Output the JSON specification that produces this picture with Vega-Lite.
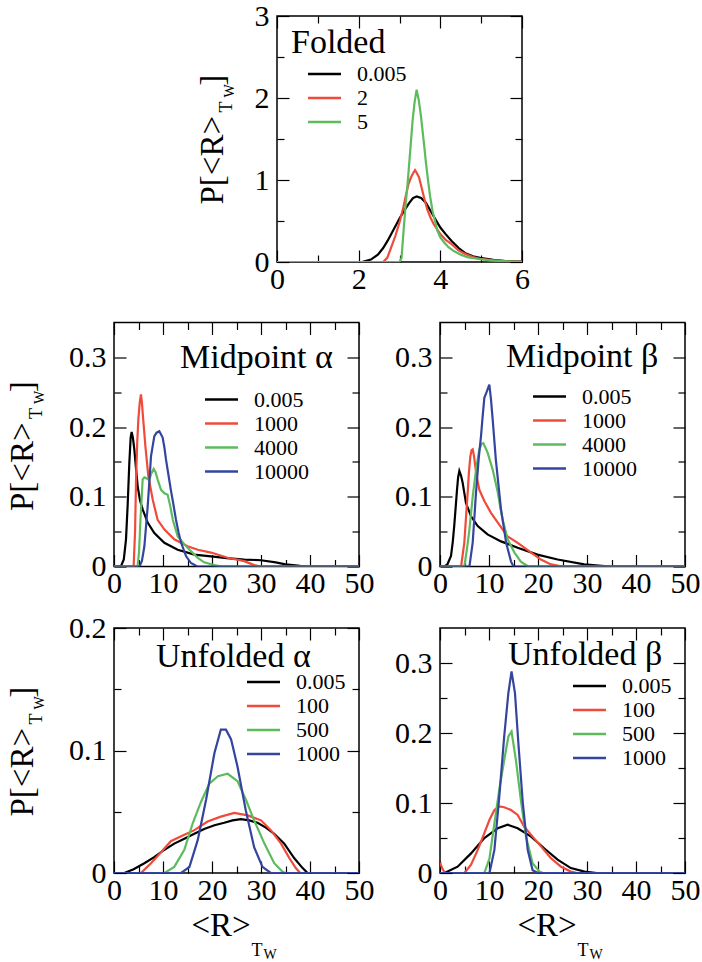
{
  "$schema": "https://vega.github.io/schema/vega-lite/v6.json",
  "background": "white",
  "padding": {"left": 5, "top": 0, "right": 5, "bottom": 0},
  "config": {
    "view": {"stroke": "black", "strokeWidth": 1.5},
    "font": "Liberation Serif",
    "axis": {"grid": false, "domain": false, "labelFont": "Liberation Serif", "labelFontSize": 30, "labelColor": "black", "titleFont": "Liberation Serif", "titleColor": "black", "titleFontWeight": "normal", "tickColor": "black", "tickWidth": 1.2, "labelFlush": false, "labelOverlap": false, "labelBound": false},
    "legend": {"padding": 0, "labelFont": "Liberation Serif", "labelFontSize": 22, "labelColor": "black", "symbolType": "M-1.333,0H2.667", "symbolSize": 272.25, "symbolStrokeWidth": 2.5, "labelOffset": 27, "rowPadding": 2, "direction": "vertical"},
    "title": {"font": "Liberation Serif", "fontSize": 34, "fontWeight": "normal", "color": "black", "anchor": "start", "frame": "group", "baseline": "alphabetic"}
  },
  "datasets": {
    "folded": [
      {"s":"0.005","x":0,"y":0},{"s":"0.005","x":1,"y":0},{"s":"0.005","x":2.0,"y":0},{"s":"0.005","x":2.1,"y":0.003},{"s":"0.005","x":2.3,"y":0.03},{"s":"0.005","x":2.47,"y":0.09},{"s":"0.005","x":2.6,"y":0.17},{"s":"0.005","x":2.71,"y":0.26},{"s":"0.005","x":2.85,"y":0.39},{"s":"0.005","x":3.01,"y":0.54},{"s":"0.005","x":3.12,"y":0.63},{"s":"0.005","x":3.24,"y":0.72},{"s":"0.005","x":3.33,"y":0.78},{"s":"0.005","x":3.42,"y":0.8},{"s":"0.005","x":3.53,"y":0.78},{"s":"0.005","x":3.65,"y":0.72},{"s":"0.005","x":3.81,"y":0.58},{"s":"0.005","x":4.0,"y":0.42},{"s":"0.005","x":4.13,"y":0.34},{"s":"0.005","x":4.27,"y":0.26},{"s":"0.005","x":4.45,"y":0.17},{"s":"0.005","x":4.6,"y":0.11},{"s":"0.005","x":4.8,"y":0.07},{"s":"0.005","x":4.97,"y":0.05},{"s":"0.005","x":5.3,"y":0.025},{"s":"0.005","x":5.6,"y":0.012},{"s":"0.005","x":6,"y":0.005},
      {"s":"2","x":0,"y":0},{"s":"2","x":2.6,"y":0},{"s":"2","x":2.7,"y":0.05},{"s":"2","x":2.79,"y":0.17},{"s":"2","x":2.9,"y":0.32},{"s":"2","x":3.01,"y":0.5},{"s":"2","x":3.1,"y":0.68},{"s":"2","x":3.16,"y":0.82},{"s":"2","x":3.22,"y":0.95},{"s":"2","x":3.28,"y":1.03},{"s":"2","x":3.33,"y":1.08},{"s":"2","x":3.38,"y":1.12},{"s":"2","x":3.43,"y":1.08},{"s":"2","x":3.48,"y":1.03},{"s":"2","x":3.56,"y":0.87},{"s":"2","x":3.62,"y":0.75},{"s":"2","x":3.68,"y":0.64},{"s":"2","x":3.76,"y":0.54},{"s":"2","x":3.84,"y":0.46},{"s":"2","x":4.0,"y":0.34},{"s":"2","x":4.13,"y":0.27},{"s":"2","x":4.27,"y":0.22},{"s":"2","x":4.45,"y":0.14},{"s":"2","x":4.6,"y":0.1},{"s":"2","x":4.8,"y":0.06},{"s":"2","x":4.97,"y":0.04},{"s":"2","x":5.3,"y":0.02},{"s":"2","x":5.6,"y":0.01},{"s":"2","x":6,"y":0.003},
      {"s":"5","x":0,"y":0},{"s":"5","x":3.0,"y":0},{"s":"5","x":3.05,"y":0.05},{"s":"5","x":3.11,"y":0.45},{"s":"5","x":3.16,"y":0.75},{"s":"5","x":3.21,"y":1.03},{"s":"5","x":3.27,"y":1.4},{"s":"5","x":3.32,"y":1.72},{"s":"5","x":3.37,"y":1.95},{"s":"5","x":3.42,"y":2.1},{"s":"5","x":3.47,"y":1.98},{"s":"5","x":3.52,"y":1.8},{"s":"5","x":3.56,"y":1.62},{"s":"5","x":3.6,"y":1.44},{"s":"5","x":3.65,"y":1.2},{"s":"5","x":3.7,"y":0.99},{"s":"5","x":3.75,"y":0.8},{"s":"5","x":3.81,"y":0.62},{"s":"5","x":3.87,"y":0.5},{"s":"5","x":3.93,"y":0.38},{"s":"5","x":4.0,"y":0.3},{"s":"5","x":4.09,"y":0.24},{"s":"5","x":4.2,"y":0.18},{"s":"5","x":4.34,"y":0.13},{"s":"5","x":4.5,"y":0.09},{"s":"5","x":4.66,"y":0.06},{"s":"5","x":4.9,"y":0.04},{"s":"5","x":5.2,"y":0.02},{"s":"5","x":5.6,"y":0.008},{"s":"5","x":6,"y":0.003}
    ],
    "mida": [
      {"s":"0.005","x":0,"y":0},{"s":"0.005","x":1.4,"y":0},{"s":"0.005","x":2.0,"y":0.01},{"s":"0.005","x":2.45,"y":0.039},{"s":"0.005","x":2.8,"y":0.09},{"s":"0.005","x":3.13,"y":0.149},{"s":"0.005","x":3.4,"y":0.185},{"s":"0.005","x":3.6,"y":0.193},{"s":"0.005","x":3.85,"y":0.185},{"s":"0.005","x":4.15,"y":0.168},{"s":"0.005","x":4.5,"y":0.14},{"s":"0.005","x":4.83,"y":0.115},{"s":"0.005","x":5.3,"y":0.095},{"s":"0.005","x":5.85,"y":0.082},{"s":"0.005","x":6.87,"y":0.063},{"s":"0.005","x":8.23,"y":0.048},{"s":"0.005","x":10.27,"y":0.034},{"s":"0.005","x":13,"y":0.024},{"s":"0.005","x":16.4,"y":0.017},{"s":"0.005","x":19.8,"y":0.0145},{"s":"0.005","x":23,"y":0.012},{"s":"0.005","x":26.6,"y":0.01},{"s":"0.005","x":30,"y":0.009},{"s":"0.005","x":33,"y":0.006},{"s":"0.005","x":35,"y":0.003},{"s":"0.005","x":38,"y":0.001},{"s":"0.005","x":40,"y":0},{"s":"0.005","x":50,"y":0},
      {"s":"1000","x":0,"y":0},{"s":"1000","x":4.0,"y":0},{"s":"1000","x":4.3,"y":0.05},{"s":"1000","x":4.5,"y":0.125},{"s":"1000","x":4.75,"y":0.18},{"s":"1000","x":4.97,"y":0.211},{"s":"1000","x":5.25,"y":0.235},{"s":"1000","x":5.5,"y":0.247},{"s":"1000","x":5.7,"y":0.235},{"s":"1000","x":5.9,"y":0.216},{"s":"1000","x":6.15,"y":0.195},{"s":"1000","x":6.4,"y":0.173},{"s":"1000","x":7.0,"y":0.13},{"s":"1000","x":7.9,"y":0.096},{"s":"1000","x":8.9,"y":0.067},{"s":"1000","x":10.3,"y":0.053},{"s":"1000","x":12.3,"y":0.039},{"s":"1000","x":15,"y":0.029},{"s":"1000","x":17.1,"y":0.024},{"s":"1000","x":19.8,"y":0.02},{"s":"1000","x":23.2,"y":0.0125},{"s":"1000","x":26.6,"y":0.0077},{"s":"1000","x":28.6,"y":0.002},{"s":"1000","x":30,"y":0},{"s":"1000","x":50,"y":0},
      {"s":"4000","x":0,"y":0},{"s":"4000","x":4.8,"y":0},{"s":"4000","x":5.1,"y":0.02},{"s":"4000","x":5.4,"y":0.067},{"s":"4000","x":5.85,"y":0.125},{"s":"4000","x":6.2,"y":0.128},{"s":"4000","x":6.53,"y":0.127},{"s":"4000","x":7.2,"y":0.124},{"s":"4000","x":7.6,"y":0.133},{"s":"4000","x":8.1,"y":0.14},{"s":"4000","x":8.5,"y":0.135},{"s":"4000","x":8.9,"y":0.125},{"s":"4000","x":9.6,"y":0.11},{"s":"4000","x":10.3,"y":0.105},{"s":"4000","x":10.95,"y":0.103},{"s":"4000","x":11.5,"y":0.086},{"s":"4000","x":12,"y":0.067},{"s":"4000","x":12.5,"y":0.055},{"s":"4000","x":13,"y":0.043},{"s":"4000","x":14.35,"y":0.032},{"s":"4000","x":15.7,"y":0.022},{"s":"4000","x":17.1,"y":0.0125},{"s":"4000","x":18.4,"y":0.006},{"s":"4000","x":20.5,"y":0.002},{"s":"4000","x":22,"y":0},{"s":"4000","x":50,"y":0},
      {"s":"10000","x":0,"y":0},{"s":"10000","x":5.2,"y":0},{"s":"10000","x":5.7,"y":0.008},{"s":"10000","x":6.2,"y":0.029},{"s":"10000","x":6.87,"y":0.086},{"s":"10000","x":7.2,"y":0.12},{"s":"10000","x":7.55,"y":0.158},{"s":"10000","x":8.23,"y":0.187},{"s":"10000","x":8.7,"y":0.192},{"s":"10000","x":9.25,"y":0.194},{"s":"10000","x":9.93,"y":0.185},{"s":"10000","x":10.3,"y":0.17},{"s":"10000","x":10.6,"y":0.154},{"s":"10000","x":11.1,"y":0.132},{"s":"10000","x":11.6,"y":0.11},{"s":"10000","x":12.1,"y":0.09},{"s":"10000","x":12.65,"y":0.067},{"s":"10000","x":13.2,"y":0.048},{"s":"10000","x":13.7,"y":0.034},{"s":"10000","x":14.7,"y":0.015},{"s":"10000","x":15.7,"y":0.005},{"s":"10000","x":17,"y":0},{"s":"10000","x":50,"y":0}
    ],
    "midb": [
      {"s":"0.005","x":0,"y":0},{"s":"0.005","x":0.9,"y":0},{"s":"0.005","x":1.5,"y":0.003},{"s":"0.005","x":2.24,"y":0.015},{"s":"0.005","x":2.6,"y":0.035},{"s":"0.005","x":2.9,"y":0.058},{"s":"0.005","x":3.2,"y":0.085},{"s":"0.005","x":3.47,"y":0.11},{"s":"0.005","x":3.7,"y":0.128},{"s":"0.005","x":3.95,"y":0.137},{"s":"0.005","x":4.3,"y":0.13},{"s":"0.005","x":4.63,"y":0.12},{"s":"0.005","x":5.3,"y":0.091},{"s":"0.005","x":6.33,"y":0.072},{"s":"0.005","x":7.7,"y":0.058},{"s":"0.005","x":9.7,"y":0.046},{"s":"0.005","x":12.45,"y":0.036},{"s":"0.005","x":15.85,"y":0.027},{"s":"0.005","x":19.9,"y":0.017},{"s":"0.005","x":24,"y":0.01},{"s":"0.005","x":29.45,"y":0.003},{"s":"0.005","x":33,"y":0.001},{"s":"0.005","x":35,"y":0},{"s":"0.005","x":50,"y":0},
      {"s":"1000","x":0,"y":0},{"s":"1000","x":4.3,"y":0},{"s":"1000","x":4.96,"y":0.034},{"s":"1000","x":5.3,"y":0.07},{"s":"1000","x":5.65,"y":0.106},{"s":"1000","x":5.9,"y":0.135},{"s":"1000","x":6.19,"y":0.158},{"s":"1000","x":6.45,"y":0.167},{"s":"1000","x":6.67,"y":0.168},{"s":"1000","x":6.9,"y":0.16},{"s":"1000","x":7.2,"y":0.144},{"s":"1000","x":7.6,"y":0.125},{"s":"1000","x":8.03,"y":0.11},{"s":"1000","x":9.05,"y":0.094},{"s":"1000","x":10.4,"y":0.077},{"s":"1000","x":11.8,"y":0.063},{"s":"1000","x":13.8,"y":0.043},{"s":"1000","x":15.85,"y":0.034},{"s":"1000","x":17.2,"y":0.027},{"s":"1000","x":18.6,"y":0.02},{"s":"1000","x":20.6,"y":0.01},{"s":"1000","x":22.65,"y":0.003},{"s":"1000","x":25,"y":0},{"s":"1000","x":50,"y":0},
      {"s":"4000","x":0,"y":0},{"s":"4000","x":4.96,"y":0},{"s":"4000","x":5.5,"y":0.025},{"s":"4000","x":6,"y":0.053},{"s":"4000","x":6.67,"y":0.1},{"s":"4000","x":7.35,"y":0.139},{"s":"4000","x":8.03,"y":0.168},{"s":"4000","x":8.5,"y":0.176},{"s":"4000","x":8.84,"y":0.177},{"s":"4000","x":9.3,"y":0.17},{"s":"4000","x":9.73,"y":0.163},{"s":"4000","x":10.75,"y":0.139},{"s":"4000","x":11.3,"y":0.122},{"s":"4000","x":11.8,"y":0.106},{"s":"4000","x":12.3,"y":0.085},{"s":"4000","x":12.8,"y":0.067},{"s":"4000","x":13.8,"y":0.039},{"s":"4000","x":15.2,"y":0.02},{"s":"4000","x":16.5,"y":0.007},{"s":"4000","x":18,"y":0},{"s":"4000","x":50,"y":0},
      {"s":"10000","x":0,"y":0},{"s":"10000","x":6,"y":0},{"s":"10000","x":6.67,"y":0.034},{"s":"10000","x":7.35,"y":0.106},{"s":"10000","x":7.9,"y":0.155},{"s":"10000","x":8.37,"y":0.187},{"s":"10000","x":8.7,"y":0.215},{"s":"10000","x":9.05,"y":0.242},{"s":"10000","x":9.5,"y":0.25},{"s":"10000","x":10.07,"y":0.261},{"s":"10000","x":10.4,"y":0.24},{"s":"10000","x":10.75,"y":0.211},{"s":"10000","x":11.4,"y":0.153},{"s":"10000","x":12.45,"y":0.082},{"s":"10000","x":13.5,"y":0.034},{"s":"10000","x":14.5,"y":0.007},{"s":"10000","x":15,"y":0},{"s":"10000","x":50,"y":0}
    ],
    "unfa": [
      {"s":"0.005","x":0,"y":0},{"s":"0.005","x":2.1,"y":0},{"s":"0.005","x":4,"y":0.003},{"s":"0.005","x":6.2,"y":0.008},{"s":"0.005","x":8.2,"y":0.013},{"s":"0.005","x":10.3,"y":0.019},{"s":"0.005","x":12.3,"y":0.024},{"s":"0.005","x":14.35,"y":0.028},{"s":"0.005","x":16.4,"y":0.032},{"s":"0.005","x":18.4,"y":0.036},{"s":"0.005","x":20.5,"y":0.039},{"s":"0.005","x":22.5,"y":0.041},{"s":"0.005","x":24.2,"y":0.043},{"s":"0.005","x":25.9,"y":0.044},{"s":"0.005","x":27.6,"y":0.043},{"s":"0.005","x":29.3,"y":0.041},{"s":"0.005","x":31,"y":0.037},{"s":"0.005","x":32.7,"y":0.032},{"s":"0.005","x":34.75,"y":0.024},{"s":"0.005","x":36.8,"y":0.012},{"s":"0.005","x":38.5,"y":0.004},{"s":"0.005","x":39.5,"y":0},{"s":"0.005","x":50,"y":0},
      {"s":"100","x":0,"y":0},{"s":"100","x":5.5,"y":0},{"s":"100","x":7.55,"y":0.008},{"s":"100","x":9.6,"y":0.017},{"s":"100","x":11.6,"y":0.026},{"s":"100","x":13.7,"y":0.03},{"s":"100","x":16.4,"y":0.035},{"s":"100","x":19.1,"y":0.042},{"s":"100","x":21.8,"y":0.046},{"s":"100","x":24.55,"y":0.049},{"s":"100","x":27.3,"y":0.047},{"s":"100","x":30,"y":0.043},{"s":"100","x":32,"y":0.035},{"s":"100","x":34.1,"y":0.024},{"s":"100","x":35.8,"y":0.012},{"s":"100","x":37.1,"y":0.004},{"s":"100","x":38,"y":0},{"s":"100","x":50,"y":0},
      {"s":"500","x":0,"y":0},{"s":"500","x":10.3,"y":0},{"s":"500","x":12.3,"y":0.005},{"s":"500","x":14.35,"y":0.019},{"s":"500","x":16.1,"y":0.041},{"s":"500","x":17.75,"y":0.058},{"s":"500","x":19.45,"y":0.073},{"s":"500","x":21.2,"y":0.079},{"s":"500","x":23.2,"y":0.081},{"s":"500","x":25.2,"y":0.075},{"s":"500","x":26.9,"y":0.06},{"s":"500","x":28.6,"y":0.043},{"s":"500","x":30.7,"y":0.024},{"s":"500","x":32.7,"y":0.008},{"s":"500","x":34.4,"y":0.001},{"s":"500","x":35,"y":0},{"s":"500","x":50,"y":0},
      {"s":"1000","x":0,"y":0},{"s":"1000","x":13.7,"y":0},{"s":"1000","x":15.4,"y":0.005},{"s":"1000","x":17.1,"y":0.027},{"s":"1000","x":18.8,"y":0.06},{"s":"1000","x":20.5,"y":0.098},{"s":"1000","x":21.8,"y":0.117},{"s":"1000","x":22.85,"y":0.117},{"s":"1000","x":23.9,"y":0.109},{"s":"1000","x":25.2,"y":0.087},{"s":"1000","x":26.9,"y":0.051},{"s":"1000","x":28.6,"y":0.021},{"s":"1000","x":30.3,"y":0.005},{"s":"1000","x":32,"y":0},{"s":"1000","x":50,"y":0}
    ],
    "unfb": [
      {"s":"0.005","x":0,"y":0},{"s":"0.005","x":0.9,"y":0},{"s":"0.005","x":3.6,"y":0.009},{"s":"0.005","x":6.33,"y":0.028},{"s":"0.005","x":9.05,"y":0.05},{"s":"0.005","x":11.8,"y":0.064},{"s":"0.005","x":13.8,"y":0.069},{"s":"0.005","x":15.85,"y":0.064},{"s":"0.005","x":18.6,"y":0.052},{"s":"0.005","x":21.3,"y":0.035},{"s":"0.005","x":24,"y":0.019},{"s":"0.005","x":26.7,"y":0.007},{"s":"0.005","x":29.5,"y":0.002},{"s":"0.005","x":32,"y":0},{"s":"0.005","x":50,"y":0},
      {"s":"100","x":0,"y":0.015},{"s":"100","x":0.5,"y":0.006},{"s":"100","x":1,"y":0},{"s":"100","x":5,"y":0},{"s":"100","x":6.33,"y":0.012},{"s":"100","x":7.7,"y":0.033},{"s":"100","x":9.05,"y":0.057},{"s":"100","x":10.1,"y":0.076},{"s":"100","x":11.1,"y":0.09},{"s":"100","x":12.1,"y":0.095},{"s":"100","x":13.1,"y":0.094},{"s":"100","x":14.5,"y":0.09},{"s":"100","x":15.85,"y":0.083},{"s":"100","x":17.2,"y":0.066},{"s":"100","x":18.9,"y":0.052},{"s":"100","x":20.6,"y":0.038},{"s":"100","x":22.65,"y":0.021},{"s":"100","x":24.7,"y":0.009},{"s":"100","x":26.7,"y":0.002},{"s":"100","x":28,"y":0},{"s":"100","x":50,"y":0},
      {"s":"500","x":0,"y":0},{"s":"500","x":9.05,"y":0},{"s":"500","x":10.1,"y":0.021},{"s":"500","x":11.1,"y":0.071},{"s":"500","x":12.1,"y":0.119},{"s":"500","x":13.1,"y":0.161},{"s":"500","x":13.95,"y":0.195},{"s":"500","x":14.6,"y":0.202},{"s":"500","x":15.5,"y":0.161},{"s":"500","x":16.5,"y":0.104},{"s":"500","x":17.55,"y":0.052},{"s":"500","x":18.9,"y":0.014},{"s":"500","x":20.3,"y":0.002},{"s":"500","x":21,"y":0},{"s":"500","x":50,"y":0},
      {"s":"1000","x":0,"y":0},{"s":"1000","x":10.1,"y":0},{"s":"1000","x":11.1,"y":0.033},{"s":"1000","x":12.1,"y":0.109},{"s":"1000","x":13.1,"y":0.195},{"s":"1000","x":13.95,"y":0.257},{"s":"1000","x":14.6,"y":0.288},{"s":"1000","x":15.3,"y":0.257},{"s":"1000","x":16,"y":0.185},{"s":"1000","x":16.9,"y":0.1},{"s":"1000","x":17.9,"y":0.033},{"s":"1000","x":18.9,"y":0.004},{"s":"1000","x":20,"y":0},{"s":"1000","x":50,"y":0}
    ]
  },
  "spacing": 12.5,
  "resolve": {"scale": {"color": "independent", "x": "independent", "y": "independent"}, "legend": {"color": "independent"}},
  "vconcat": [
    {
      "hconcat": [
        {"width": 163, "height": 291.5, "view": {"stroke": null}, "data": {"values": [{}]}, "mark": {"type": "point", "opacity": 0}},
        {
          "width": 245, "height": 246,
          "data": {"name": "folded"},
          "title": {"text": "Folded", "dx": 14, "offset": -59},
          "resolve": {"axis": {"x": "independent", "y": "independent"}},
          "layer": [
            {"mark": {"type": "line", "strokeWidth": 2.2, "clip": true},
             "encoding": {
               "x": {"field": "x", "type": "quantitative", "scale": {"domain": [0, 6], "nice": false}, "axis": {"orient": "bottom", "values": [0, 2, 4, 6], "ticks": false, "labelPadding": 2, "title": null}},
               "y": {"field": "y", "type": "quantitative", "scale": {"domain": [0, 3], "nice": false}, "axis": {"orient": "left", "values": [0, 1, 2, 3], "ticks": false, "labelPadding": 8, "title": "P[<R>\u2002\u2005\u2006]", "titleFontSize": 33, "titleAngle": -90, "titleAlign": "left", "titleBaseline": "alphabetic", "titleX": -55, "titleY": 188}},
               "color": {"field": "s", "type": "nominal", "scale": {"domain": ["0.005", "2", "5"], "range": ["#000000", "#ef4a3a", "#5dbb5d"]}, "legend": {"title": null, "orient": "none", "legendX": 31, "legendY": 47}}
             }},
            {"mark": {"type": "point", "opacity": 0},
             "encoding": {
               "x": {"field": "x", "type": "quantitative", "scale": {"domain": [0, 6], "nice": false}, "axis": {"orient": "bottom", "values": [0, 2, 4, 6], "tickSize": -12, "labels": false, "title": null}},
               "y": {"field": "y", "type": "quantitative", "scale": {"domain": [0, 3], "nice": false}, "axis": {"orient": "left", "values": [0, 1, 2, 3], "tickSize": -12, "labels": false, "title": "T", "titleFontSize": 18, "titleAngle": -90, "titleAlign": "left", "titleBaseline": "alphabetic", "titleX": -46, "titleY": 96}}
             }},
            {"mark": {"type": "point", "opacity": 0},
             "encoding": {
               "x": {"field": "x", "type": "quantitative", "scale": {"domain": [0, 6], "nice": false}, "axis": {"orient": "bottom", "values": [1, 3, 5], "tickSize": -7, "labels": false, "title": null}},
               "y": {"field": "y", "type": "quantitative", "scale": {"domain": [0, 3], "nice": false}, "axis": {"orient": "left", "values": [0.5, 1.5, 2.5], "tickSize": -7, "labels": false, "title": "W", "titleFontSize": 14, "titleAngle": -90, "titleAlign": "left", "titleBaseline": "alphabetic", "titleX": -44, "titleY": 81}}
             }},
            {"mark": {"type": "point", "opacity": 0},
             "encoding": {
               "x": {"field": "x", "type": "quantitative", "scale": {"domain": [0, 6], "nice": false}, "axis": {"orient": "top", "values": [0, 2, 4, 6], "tickSize": -12, "labels": false, "title": null}},
               "y": {"field": "y", "type": "quantitative", "scale": {"domain": [0, 3], "nice": false}, "axis": {"orient": "right", "values": [0, 1, 2, 3], "tickSize": -12, "labels": false, "title": null}}
             }},
            {"mark": {"type": "point", "opacity": 0},
             "encoding": {
               "x": {"field": "x", "type": "quantitative", "scale": {"domain": [0, 6], "nice": false}, "axis": {"orient": "top", "values": [1, 3, 5], "tickSize": -7, "labels": false, "title": null}},
               "y": {"field": "y", "type": "quantitative", "scale": {"domain": [0, 3], "nice": false}, "axis": {"orient": "right", "values": [0.5, 1.5, 2.5], "tickSize": -7, "labels": false, "title": null}}
             }}
          ]
        }
      ],
      "spacing": 0,
      "bounds": "flush",
      "resolve": {"scale": {"color": "independent", "x": "independent", "y": "independent"}, "legend": {"color": "independent"}}
    },
    {
      "hconcat": [
        {
          "width": 245, "height": 244,
          "data": {"name": "mida"},
          "title": {"text": "Midpoint α", "dx": 66, "offset": -53.5},
          "resolve": {"axis": {"x": "independent", "y": "independent"}},
          "layer": [
            {"mark": {"type": "line", "strokeWidth": 2.2, "clip": true},
             "encoding": {
               "x": {"field": "x", "type": "quantitative", "scale": {"domain": [0, 50], "nice": false}, "axis": {"orient": "bottom", "values": [0, 10, 20, 30, 40, 50], "ticks": false, "labelPadding": 2, "title": null}},
               "y": {"field": "y", "type": "quantitative", "scale": {"domain": [0, 0.35], "nice": false}, "axis": {"orient": "left", "values": [0, 0.1, 0.2, 0.3], "format": "~g", "ticks": false, "labelPadding": 8, "title": "P[<R>\u2002\u2005\u2006]", "titleFontSize": 33, "titleAngle": -90, "titleAlign": "left", "titleBaseline": "alphabetic", "titleX": -82, "titleY": 188}},
               "color": {"field": "s", "type": "nominal", "scale": {"domain": ["0.005", "1000", "4000", "10000"], "range": ["#000000", "#ef4a3a", "#5dbb5d", "#33459e"]}, "legend": {"title": null, "orient": "none", "legendX": 91, "legendY": 66}}
             }},
            {"mark": {"type": "point", "opacity": 0},
             "encoding": {
               "x": {"field": "x", "type": "quantitative", "scale": {"domain": [0, 50], "nice": false}, "axis": {"orient": "bottom", "values": [0, 10, 20, 30, 40, 50], "tickSize": -12, "labels": false, "title": null}},
               "y": {"field": "y", "type": "quantitative", "scale": {"domain": [0, 0.35], "nice": false}, "axis": {"orient": "left", "values": [0, 0.1, 0.2, 0.3], "tickSize": -12, "labels": false, "title": "T", "titleFontSize": 18, "titleAngle": -90, "titleAlign": "left", "titleBaseline": "alphabetic", "titleX": -73, "titleY": 96}}
             }},
            {"mark": {"type": "point", "opacity": 0},
             "encoding": {
               "x": {"field": "x", "type": "quantitative", "scale": {"domain": [0, 50], "nice": false}, "axis": {"orient": "bottom", "values": [5, 15, 25, 35, 45], "tickSize": -7, "labels": false, "title": null}},
               "y": {"field": "y", "type": "quantitative", "scale": {"domain": [0, 0.35], "nice": false}, "axis": {"orient": "left", "values": [0.05, 0.15, 0.25], "tickSize": -7, "labels": false, "title": "W", "titleFontSize": 14, "titleAngle": -90, "titleAlign": "left", "titleBaseline": "alphabetic", "titleX": -71, "titleY": 81}}
             }},
            {"mark": {"type": "point", "opacity": 0},
             "encoding": {
               "x": {"field": "x", "type": "quantitative", "scale": {"domain": [0, 50], "nice": false}, "axis": {"orient": "top", "values": [0, 10, 20, 30, 40, 50], "tickSize": -12, "labels": false, "title": null}},
               "y": {"field": "y", "type": "quantitative", "scale": {"domain": [0, 0.35], "nice": false}, "axis": {"orient": "right", "values": [0, 0.1, 0.2, 0.3], "tickSize": -12, "labels": false, "title": null}}
             }},
            {"mark": {"type": "point", "opacity": 0},
             "encoding": {
               "x": {"field": "x", "type": "quantitative", "scale": {"domain": [0, 50], "nice": false}, "axis": {"orient": "top", "values": [5, 15, 25, 35, 45], "tickSize": -7, "labels": false, "title": null}},
               "y": {"field": "y", "type": "quantitative", "scale": {"domain": [0, 0.35], "nice": false}, "axis": {"orient": "right", "values": [0.05, 0.15, 0.25], "tickSize": -7, "labels": false, "title": null}}
             }}
          ]
        },
        {
          "width": 245, "height": 244,
          "data": {"name": "midb"},
          "title": {"text": "Midpoint β", "dx": 66, "offset": -52.5},
          "resolve": {"axis": {"x": "independent", "y": "independent"}},
          "layer": [
            {"mark": {"type": "line", "strokeWidth": 2.2, "clip": true},
             "encoding": {
               "x": {"field": "x", "type": "quantitative", "scale": {"domain": [0, 50], "nice": false}, "axis": {"orient": "bottom", "values": [0, 10, 20, 30, 40, 50], "ticks": false, "labelPadding": 2, "title": null}},
               "y": {"field": "y", "type": "quantitative", "scale": {"domain": [0, 0.35], "nice": false}, "axis": {"orient": "left", "values": [0, 0.1, 0.2, 0.3], "format": "~g", "ticks": false, "labelPadding": 8, "title": null}},
               "color": {"field": "s", "type": "nominal", "scale": {"domain": ["0.005", "1000", "4000", "10000"], "range": ["#000000", "#ef4a3a", "#5dbb5d", "#33459e"]}, "legend": {"title": null, "orient": "none", "legendX": 93, "legendY": 63}}
             }},
            {"mark": {"type": "point", "opacity": 0},
             "encoding": {
               "x": {"field": "x", "type": "quantitative", "scale": {"domain": [0, 50], "nice": false}, "axis": {"orient": "bottom", "values": [0, 10, 20, 30, 40, 50], "tickSize": -12, "labels": false, "title": null}},
               "y": {"field": "y", "type": "quantitative", "scale": {"domain": [0, 0.35], "nice": false}, "axis": {"orient": "left", "values": [0, 0.1, 0.2, 0.3], "tickSize": -12, "labels": false, "title": null}}
             }},
            {"mark": {"type": "point", "opacity": 0},
             "encoding": {
               "x": {"field": "x", "type": "quantitative", "scale": {"domain": [0, 50], "nice": false}, "axis": {"orient": "bottom", "values": [5, 15, 25, 35, 45], "tickSize": -7, "labels": false, "title": null}},
               "y": {"field": "y", "type": "quantitative", "scale": {"domain": [0, 0.35], "nice": false}, "axis": {"orient": "left", "values": [0.05, 0.15, 0.25], "tickSize": -7, "labels": false, "title": null}}
             }},
            {"mark": {"type": "point", "opacity": 0},
             "encoding": {
               "x": {"field": "x", "type": "quantitative", "scale": {"domain": [0, 50], "nice": false}, "axis": {"orient": "top", "values": [0, 10, 20, 30, 40, 50], "tickSize": -12, "labels": false, "title": null}},
               "y": {"field": "y", "type": "quantitative", "scale": {"domain": [0, 0.35], "nice": false}, "axis": {"orient": "right", "values": [0, 0.1, 0.2, 0.3], "tickSize": -12, "labels": false, "title": null}}
             }},
            {"mark": {"type": "point", "opacity": 0},
             "encoding": {
               "x": {"field": "x", "type": "quantitative", "scale": {"domain": [0, 50], "nice": false}, "axis": {"orient": "top", "values": [5, 15, 25, 35, 45], "tickSize": -7, "labels": false, "title": null}},
               "y": {"field": "y", "type": "quantitative", "scale": {"domain": [0, 0.35], "nice": false}, "axis": {"orient": "right", "values": [0.05, 0.15, 0.25], "tickSize": -7, "labels": false, "title": null}}
             }}
          ]
        }
      ],
      "spacing": 81,
      "bounds": "flush",
      "resolve": {"scale": {"color": "independent", "x": "independent", "y": "independent"}, "legend": {"color": "independent"}}
    },
    {
      "hconcat": [
        {
          "width": 245, "height": 245,
          "data": {"name": "unfa"},
          "title": {"text": "Unfolded α", "dx": 42, "offset": -61},
          "resolve": {"axis": {"x": "independent", "y": "independent"}},
          "layer": [
            {"mark": {"type": "line", "strokeWidth": 2.2, "clip": true},
             "encoding": {
               "x": {"field": "x", "type": "quantitative", "scale": {"domain": [0, 50], "nice": false}, "axis": {"orient": "bottom", "values": [0, 10, 20, 30, 40, 50], "ticks": false, "labelPadding": 2, "title": "<R>", "titleFontSize": 33, "titleAngle": 0, "titleAlign": "left", "titleBaseline": "alphabetic", "titleX": 77, "titleY": 62.5}},
               "y": {"field": "y", "type": "quantitative", "scale": {"domain": [0, 0.2], "nice": false}, "axis": {"orient": "left", "values": [0, 0.1, 0.2], "format": "~g", "ticks": false, "labelPadding": 8, "title": "P[<R>\u2002\u2005\u2006]", "titleFontSize": 33, "titleAngle": -90, "titleAlign": "left", "titleBaseline": "alphabetic", "titleX": -82, "titleY": 188}},
               "color": {"field": "s", "type": "nominal", "scale": {"domain": ["0.005", "100", "500", "1000"], "range": ["#000000", "#ef4a3a", "#5dbb5d", "#33459e"]}, "legend": {"title": null, "orient": "none", "legendX": 133, "legendY": 43}}
             }},
            {"mark": {"type": "point", "opacity": 0},
             "encoding": {
               "x": {"field": "x", "type": "quantitative", "scale": {"domain": [0, 50], "nice": false}, "axis": {"orient": "bottom", "values": [0, 10, 20, 30, 40, 50], "tickSize": -12, "labels": false, "title": "T", "titleFontSize": 18, "titleAngle": 0, "titleAlign": "left", "titleBaseline": "alphabetic", "titleX": 137, "titleY": 82.5}},
               "y": {"field": "y", "type": "quantitative", "scale": {"domain": [0, 0.2], "nice": false}, "axis": {"orient": "left", "values": [0, 0.1, 0.2], "tickSize": -12, "labels": false, "title": "T", "titleFontSize": 18, "titleAngle": -90, "titleAlign": "left", "titleBaseline": "alphabetic", "titleX": -73, "titleY": 96}}
             }},
            {"mark": {"type": "point", "opacity": 0},
             "encoding": {
               "x": {"field": "x", "type": "quantitative", "scale": {"domain": [0, 50], "nice": false}, "axis": {"orient": "bottom", "values": [5, 15, 25, 35, 45], "tickSize": -7, "labels": false, "title": "W", "titleFontSize": 14, "titleAngle": 0, "titleAlign": "left", "titleBaseline": "alphabetic", "titleX": 149, "titleY": 85}},
               "y": {"field": "y", "type": "quantitative", "scale": {"domain": [0, 0.2], "nice": false}, "axis": {"orient": "left", "values": [0.05, 0.15], "tickSize": -7, "labels": false, "title": "W", "titleFontSize": 14, "titleAngle": -90, "titleAlign": "left", "titleBaseline": "alphabetic", "titleX": -71, "titleY": 81}}
             }},
            {"mark": {"type": "point", "opacity": 0},
             "encoding": {
               "x": {"field": "x", "type": "quantitative", "scale": {"domain": [0, 50], "nice": false}, "axis": {"orient": "top", "values": [0, 10, 20, 30, 40, 50], "tickSize": -12, "labels": false, "title": null}},
               "y": {"field": "y", "type": "quantitative", "scale": {"domain": [0, 0.2], "nice": false}, "axis": {"orient": "right", "values": [0, 0.1, 0.2], "tickSize": -12, "labels": false, "title": null}}
             }},
            {"mark": {"type": "point", "opacity": 0},
             "encoding": {
               "x": {"field": "x", "type": "quantitative", "scale": {"domain": [0, 50], "nice": false}, "axis": {"orient": "top", "values": [5, 15, 25, 35, 45], "tickSize": -7, "labels": false, "title": null}},
               "y": {"field": "y", "type": "quantitative", "scale": {"domain": [0, 0.2], "nice": false}, "axis": {"orient": "right", "values": [0.05, 0.15], "tickSize": -7, "labels": false, "title": null}}
             }}
          ]
        },
        {
          "width": 245, "height": 245,
          "data": {"name": "unfb"},
          "title": {"text": "Unfolded β", "dx": 68, "offset": -45},
          "resolve": {"axis": {"x": "independent", "y": "independent"}},
          "layer": [
            {"mark": {"type": "line", "strokeWidth": 2.2, "clip": true},
             "encoding": {
               "x": {"field": "x", "type": "quantitative", "scale": {"domain": [0, 50], "nice": false}, "axis": {"orient": "bottom", "values": [0, 10, 20, 30, 40, 50], "ticks": false, "labelPadding": 2, "title": "<R>", "titleFontSize": 33, "titleAngle": 0, "titleAlign": "left", "titleBaseline": "alphabetic", "titleX": 77, "titleY": 62.5}},
               "y": {"field": "y", "type": "quantitative", "scale": {"domain": [0, 0.35], "nice": false}, "axis": {"orient": "left", "values": [0, 0.1, 0.2, 0.3], "format": "~g", "ticks": false, "labelPadding": 8, "title": null}},
               "color": {"field": "s", "type": "nominal", "scale": {"domain": ["0.005", "100", "500", "1000"], "range": ["#000000", "#ef4a3a", "#5dbb5d", "#33459e"]}, "legend": {"title": null, "orient": "none", "legendX": 133, "legendY": 47}}
             }},
            {"mark": {"type": "point", "opacity": 0},
             "encoding": {
               "x": {"field": "x", "type": "quantitative", "scale": {"domain": [0, 50], "nice": false}, "axis": {"orient": "bottom", "values": [0, 10, 20, 30, 40, 50], "tickSize": -12, "labels": false, "title": "T", "titleFontSize": 18, "titleAngle": 0, "titleAlign": "left", "titleBaseline": "alphabetic", "titleX": 137, "titleY": 82.5}},
               "y": {"field": "y", "type": "quantitative", "scale": {"domain": [0, 0.35], "nice": false}, "axis": {"orient": "left", "values": [0, 0.1, 0.2, 0.3], "tickSize": -12, "labels": false, "title": null}}
             }},
            {"mark": {"type": "point", "opacity": 0},
             "encoding": {
               "x": {"field": "x", "type": "quantitative", "scale": {"domain": [0, 50], "nice": false}, "axis": {"orient": "bottom", "values": [5, 15, 25, 35, 45], "tickSize": -7, "labels": false, "title": "W", "titleFontSize": 14, "titleAngle": 0, "titleAlign": "left", "titleBaseline": "alphabetic", "titleX": 149, "titleY": 85}},
               "y": {"field": "y", "type": "quantitative", "scale": {"domain": [0, 0.35], "nice": false}, "axis": {"orient": "left", "values": [0.05, 0.15, 0.25], "tickSize": -7, "labels": false, "title": null}}
             }},
            {"mark": {"type": "point", "opacity": 0},
             "encoding": {
               "x": {"field": "x", "type": "quantitative", "scale": {"domain": [0, 50], "nice": false}, "axis": {"orient": "top", "values": [0, 10, 20, 30, 40, 50], "tickSize": -12, "labels": false, "title": null}},
               "y": {"field": "y", "type": "quantitative", "scale": {"domain": [0, 0.35], "nice": false}, "axis": {"orient": "right", "values": [0, 0.1, 0.2, 0.3], "tickSize": -12, "labels": false, "title": null}}
             }},
            {"mark": {"type": "point", "opacity": 0},
             "encoding": {
               "x": {"field": "x", "type": "quantitative", "scale": {"domain": [0, 50], "nice": false}, "axis": {"orient": "top", "values": [5, 15, 25, 35, 45], "tickSize": -7, "labels": false, "title": null}},
               "y": {"field": "y", "type": "quantitative", "scale": {"domain": [0, 0.35], "nice": false}, "axis": {"orient": "right", "values": [0.05, 0.15, 0.25], "tickSize": -7, "labels": false, "title": null}}
             }}
          ]
        }
      ],
      "spacing": 81,
      "bounds": "flush",
      "resolve": {"scale": {"color": "independent", "x": "independent", "y": "independent"}, "legend": {"color": "independent"}}
    }
  ]
}
